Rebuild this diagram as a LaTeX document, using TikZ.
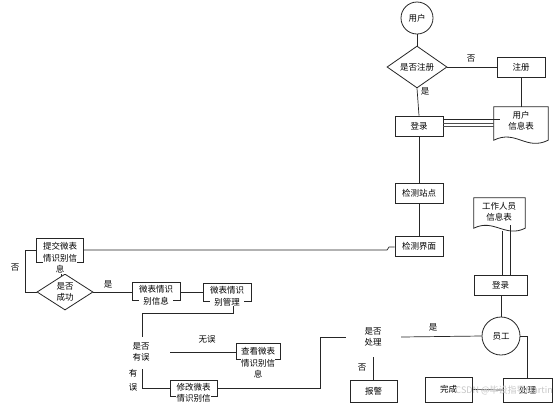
\documentclass[tikz,border=0pt]{standalone}
\usepackage{fontspec}
\setmainfont{Noto Sans CJK SC}
\usetikzlibrary{shapes.geometric}
\tikzset{
  ln/.style={draw=black!85, line width=0.7pt},
  boxnode/.style={draw=black!85, line width=0.8pt, rectangle, inner sep=0pt},
  txt/.style={font=\fontsize{8.5}{11.5}\selectfont, align=center, inner sep=0.3pt},
  wtxt/.style={txt, fill=white},
  lbl/.style={font=\fontsize{8.5}{10}\selectfont, inner sep=0pt},
  circ/.style={draw=black!85, line width=0.8pt, circle, inner sep=0pt, font=\fontsize{8.5}{10}\selectfont},
  dia/.style={draw=black!85, line width=0.8pt, diamond, inner sep=0pt, font=\fontsize{8.5}{11.5}\selectfont, align=center},
  docshape/.style={draw=black!85, line width=0.8pt}
}
\begin{document}
\begin{tikzpicture}[x=1pt,y=-1pt]
\useasboundingbox[fill=white] (0,0) rectangle (553,405);

% ---- nodes ----
\node[circ, minimum size=32pt] (user) at (417,18) {用户};
\node[dia, minimum width=60pt, minimum height=34pt] (reg) at (417,67) {是否注册};
\node[boxnode, minimum width=48pt, minimum height=20pt, txt] (zhuce) at (521,67) {注册};
\node[boxnode, minimum width=48pt, minimum height=20pt, txt] (login1) at (419,126) {登录};
\node[boxnode, minimum width=48pt, minimum height=20pt, txt] (station) at (419,193) {检测站点};
\node[boxnode, minimum width=48pt, minimum height=20pt, txt] (iface) at (419,246) {检测界面};

% user info document
\node[minimum width=54pt, minimum height=32pt, inner sep=0pt] (uinfo) at (521,123) {};
\draw[docshape] (uinfo.north west) -- (uinfo.north east) -- ([yshift=-1pt]uinfo.south east)
  .. controls ([xshift=-22pt,yshift=-12pt]uinfo.south east) and ([xshift=22pt,yshift=10pt]uinfo.south west) .. ([yshift=-1pt]uinfo.south west) -- cycle;
\node[txt] (uinfot) at (521,121) {用户\\信息表};

% staff info document
\node[minimum width=51pt, minimum height=29pt, inner sep=0pt] (sinfo) at (499.5,212.5) {};
\draw[docshape] (sinfo.north west) -- (sinfo.north east) -- ([yshift=-1pt]sinfo.south east)
  .. controls ([xshift=-20pt,yshift=-11pt]sinfo.south east) and ([xshift=20pt,yshift=9pt]sinfo.south west) .. ([yshift=-1pt]sinfo.south west) -- cycle;
\node[txt] (sinfot) at (499,212) {工作人员\\信息表};

\node[boxnode, minimum width=53pt, minimum height=20pt, txt] (login2) at (500.5,285) {登录};
\node[circ, minimum size=38pt] (staff) at (501,336) {员工};
\node[boxnode, minimum width=49pt, minimum height=24pt, txt] (handle) at (527.5,390) {处理};
\node[boxnode, minimum width=47pt, minimum height=25pt, txt] (done) at (448.5,389.5) {完成};
\node[boxnode, minimum width=47pt, minimum height=22pt, txt] (alarm) at (373.5,391) {报警};

% process decision (text only)
\node[txt, minimum width=56pt, minimum height=40pt] (proc) at (373,337) {是否\\处理};

% left part
\node[boxnode, minimum width=47pt, minimum height=24pt] (submit) at (59.5,250) {};
\node[dia, minimum width=56pt, minimum height=33pt] (succ) at (65,292) {是否\\成功};
\node[boxnode, minimum width=48pt, minimum height=18pt] (info) at (156,291) {};
\node[boxnode, minimum width=48pt, minimum height=18pt] (manage) at (227,292) {};
\node[txt, minimum width=56pt, minimum height=36pt] (haserr) at (141,352) {是否\\有误};
\node[boxnode, minimum width=44pt, minimum height=16pt] (view) at (258,351.5) {};
\node[boxnode, minimum width=47pt, minimum height=16pt] (modify) at (193.5,388) {};

% ---- connectors ----
\draw[ln] (user.south) -- (reg.north);
\draw[ln] (reg.east) -- (zhuce.west);
\node[lbl] at (471,59) {否};
\draw[ln] (reg.south) -- (login1.north);
\node[lbl] at (425,91) {是};
\draw[ln] (zhuce.south) -- (uinfo.north -| zhuce.south);
\draw[ln] (login1.east |- 0,119) -- (500,119);
\draw[ln, draw=black!70] (login1.east |- 0,123) -- (uinfo.west |- 0,123);
\draw[ln, draw=black!70] (login1.east |- 0,126) -- (uinfo.west |- 0,126);
\draw[ln] (login1.south) -- (station.north);
\draw[ln] (station.south) -- (iface.north);
\draw[ln] (iface.west |- 0,247) -- (389,247) -- (387,250) -- (submit.east |- 0,250);
\draw[ln] (submit.west |- 0,250) -- (25,250) -- (25,292) -- (succ.west);
\node[lbl] at (15,268) {否};
\draw[ln] (61,262) -- (61,275.8);
\draw[ln] (succ.east) -- (info.west |- succ.east);
\node[lbl] at (108,284) {是};
\draw[ln] (info.east |- 0,292) -- (manage.west |- 0,292);
\draw[ln] (233,301) -- (233,313) -- (142,313) -- (142,337);
\draw[ln] (170,352.5) -- (view.west |- 0,352.5);
\node[lbl] at (207,339) {无误};
\draw[ln] (142,369) -- (142,388) -- (modify.west);
\node[lbl] at (133,373) {有};
\node[lbl] at (133,387) {误};
\draw[ln] (modify.east) -- (320,388) -- (320,337) -- (346,337);
\draw[ln] (401,337) -- (staff.west);
\node[lbl] at (433,327) {是};
\draw[ln] (373,357) -- (alarm.north -| 373,0);
\node[lbl] at (362,368) {否};
\draw[ln] (502,231) -- (502,275);
\draw[ln] (510,225) -- (510,275);
\draw[ln] (login2.south -| staff.north) -- (staff.north);
\draw[ln] (staff.east) -- (527,336) -- (handle.north -| 527,0);
\draw[ln] (handle.west) -- (done.east);

% ---- texts of the left boxes (drawn over borders) ----
\node[wtxt] at (60,258) {提交微表\\情识别信\\息};
\node[wtxt] at (156,295.5) {微表情识\\别信息};
\node[wtxt] at (227,296.5) {微表情识\\别管理};
\node[wtxt] at (258,363) {查看微表\\情识别信\\息};
\node[wtxt] at (193.5,393) {修改微表\\情识别信};

% watermark
\node[font=\fontsize{9}{10}\selectfont, text=black!22, inner sep=0pt, anchor=east] at (553,390) {CSDN @毕设指导Martin};
\end{tikzpicture}
\end{document}
